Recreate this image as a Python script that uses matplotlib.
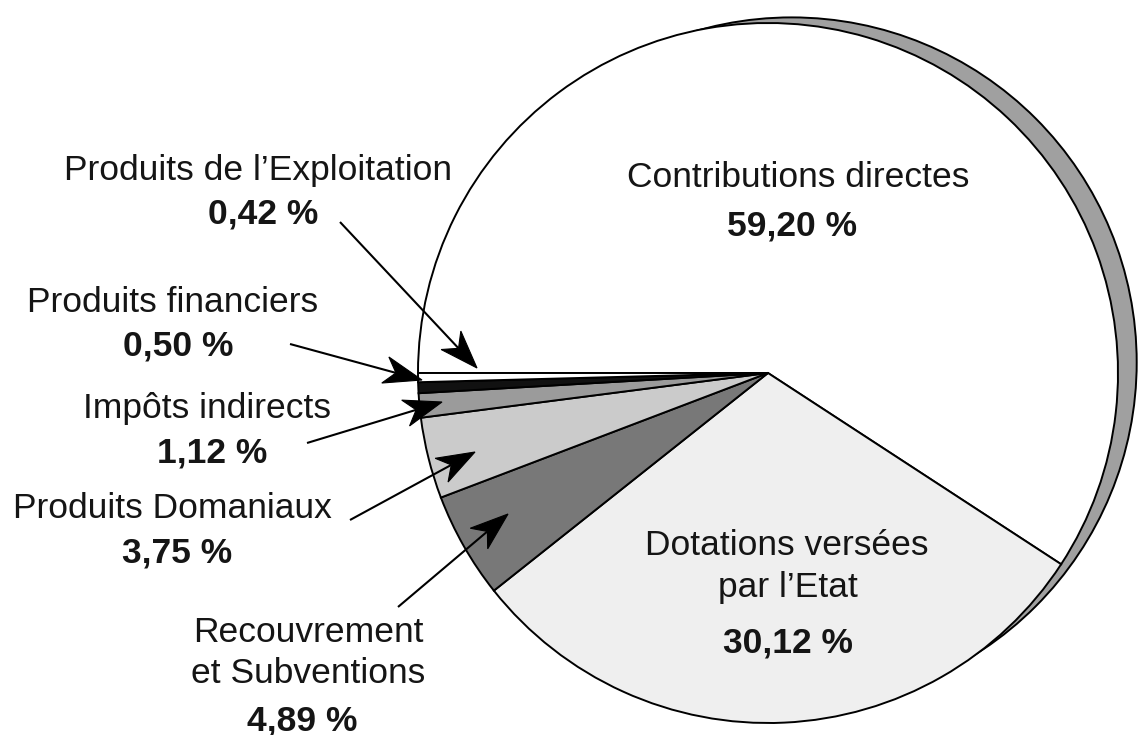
import matplotlib
matplotlib.use("Agg")
import matplotlib.pyplot as plt
from matplotlib.patches import Circle, Polygon
import numpy as np

# ---- data ----
categories = ["Contributions directes", "Dotations versées\npar l'Etat",
              "Recouvrement\net Subventions", "Produits Domaniaux",
              "Impôts indirects", "Produits financiers",
              "Produits de l’Exploitation"]
values = [59.20, 30.12, 4.89, 3.75, 1.12, 0.50, 0.42]
value_labels = ["59,20 %", "30,12 %", "4,89 %", "3,75 %", "1,12 %", "0,50 %", "0,42 %"]
colors = ["#ffffff", "#efefef", "#787878", "#cbcbcb", "#9b9b9b", "#111111", "#ffffff"]

W, H = 1138, 735
fig = plt.figure(figsize=(W / 100, H / 100), dpi=100)
ax = fig.add_axes([0, 0, 1, 1])

def Y(y):
    return H - y

cx, cy, R = 768, 373, 350

# shadow rim
ax.add_patch(Circle((cx + 23.7, Y(cy - 10.6)), 345, facecolor="#a0a0a0",
                    edgecolor="black", lw=1.4, zorder=1))

wedges, _ = ax.pie(values, colors=colors, startangle=180, counterclock=False,
                   center=(cx, Y(cy)), radius=R,
                   wedgeprops=dict(edgecolor="black", linewidth=1.4))
for w in wedges:
    w.set_zorder(2)

ax.set_xlim(0, W)
ax.set_ylim(0, H)
ax.set_aspect("equal")
ax.axis("off")

FS = 25.5
FONT = "Liberation Sans"

def txt(x, y, s, bold=False):
    ax.text(x, Y(y), s, ha="center", va="baseline", fontsize=FS,
            fontfamily=FONT, fontweight="bold" if bold else "normal",
            color="#151515", zorder=5)

txt(798, 187, "Contributions directes")
txt(792, 235, value_labels[0], bold=True)

txt(787, 555, "Dotations versées")
txt(788, 597, "par l’Etat")
txt(788, 652, value_labels[1], bold=True)

txt(308, 642, "Recouvrement")
txt(308, 683, "et Subventions")
txt(302, 730, value_labels[2], bold=True)

txt(172, 518, categories[3])
txt(177, 562, value_labels[3], bold=True)

txt(207, 418, categories[4])
txt(212, 462, value_labels[4], bold=True)

txt(173, 312, categories[5])
txt(178, 355, value_labels[5], bold=True)

txt(258, 180, categories[6])
txt(263, 223, value_labels[6], bold=True)

# arrows (start -> tip) in pixel coords
arrows = [
    ((340, 222), (477, 368)),
    ((290, 344), (422, 380)),
    ((307, 443), (442, 402)),
    ((350, 520), (475, 452)),
    ((398, 607), (508, 514)),
]

def arrow(p0, p1, L=38, Wd=27, notch=11):
    x0, y0 = p0[0], Y(p0[1])
    x1, y1 = p1[0], Y(p1[1])
    d = np.array([x1 - x0, y1 - y0], float)
    d /= np.hypot(*d)
    n = np.array([-d[1], d[0]])
    tip = np.array([x1, y1])
    back = tip - d * L
    left = back + n * Wd / 2
    right = back - n * Wd / 2
    inner = tip - d * (L - notch)
    ax.plot([x0, inner[0]], [y0, inner[1]], color="black", lw=1.5, zorder=6,
            solid_capstyle="butt")
    ax.add_patch(Polygon([tip, left, inner, right], closed=True,
                         facecolor="black", edgecolor="black", lw=0.8, zorder=7))

for p0, p1 in arrows:
    arrow(p0, p1)

fig.savefig("out.png", dpi=100, facecolor="white")
